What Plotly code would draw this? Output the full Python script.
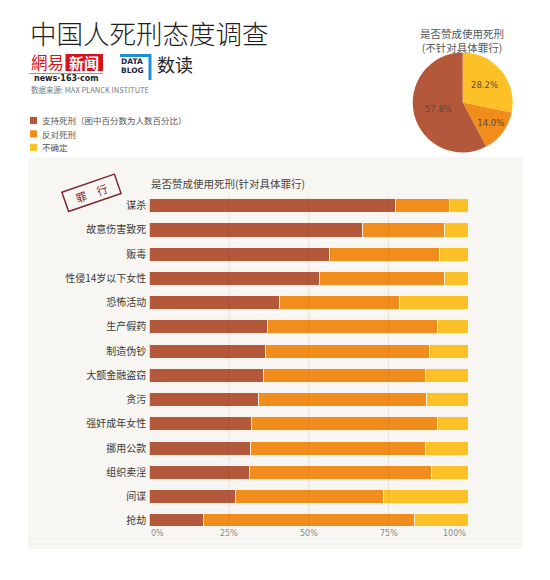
import plotly.graph_objects as go

W, H = 550, 580

crimes = ["谋杀", "故意伤害致死", "贩毒", "性侵14岁以下女性", "恐怖活动", "生产假药", "制造伪钞",
          "大额金融盗窃", "贪污", "强奸成年女性", "挪用公款", "组织卖淫", "间谍", "抢劫"]
support = [77.2, 66.9, 56.6, 53.3, 40.8, 37.2, 36.3, 35.7, 34.3, 32.1, 31.7, 31.3, 27.1, 17.0]
oppose = [16.9, 25.5, 34.5, 39.2, 37.6, 53.0, 51.6, 50.9, 52.7, 58.1, 54.9, 57.2, 46.3, 66.1]
unsure = [5.9, 7.6, 8.9, 7.5, 21.6, 9.8, 12.1, 13.4, 13.0, 9.8, 13.4, 11.5, 26.6, 16.9]

series_names = ["支持死刑", "反对死刑", "不确定"]
legend_labels = ["支持死刑（图中百分数为人数百分比）", "反对死刑", "不确定"]
colors = ["#b3583b", "#f08d1d", "#fdc128"]

pie_labels = ["不确定", "反对死刑", "支持死刑"]
pie_values = [28.2, 14.0, 57.8]
pie_colors = [colors[2], colors[1], colors[0]]

x_ticks = [0, 25, 50, 75, 100]
x_tick_text = ["0%", "25%", "50%", "75%", "100%"]

FONT = "Noto Sans CJK SC"
TITLE_FONT = "Noto Sans CJK SC Light, Noto Sans CJK SC DemiLight, Noto Sans CJK SC"
PANEL = "#f7f6f2"


def px(x):
    return x / W


def py(y):
    return 1 - y / H


fig = go.Figure()

for name, vals, col in zip(series_names, [support, oppose, unsure], colors):
    fig.add_trace(go.Bar(
        y=crimes, x=vals, name=name, orientation="h",
        marker=dict(color=col, line=dict(color="#fbf3e8", width=1)),
        showlegend=False, hovertemplate="%{y}: %{x:.1f}%<extra>" + name + "</extra>",
    ))

fig.add_trace(go.Pie(
    labels=pie_labels, values=pie_values, sort=False, direction="clockwise",
    marker=dict(colors=pie_colors, line=dict(width=0)),
    texttemplate="%{value:.1f}%", textposition="inside",
    insidetextorientation="horizontal",
    textfont=dict(family="DejaVu Sans", size=8.5, color="#5a4a3a"),
    domain=dict(x=[px(412.7), px(512.7)], y=[py(152.5), py(52.5)]),
    showlegend=False, hoverinfo="label+percent",
))

shapes = []
# beige panel
shapes.append(dict(type="rect", xref="paper", yref="paper", x0=px(28.3), x1=px(522.7),
                   y0=py(549), y1=py(157.3), fillcolor=PANEL, line=dict(width=0), layer="below"))
shapes.append(dict(type="line", xref="paper", yref="paper", x0=px(28.3), x1=px(522.7),
                   y0=py(544), y1=py(544), line=dict(color="#efece6", width=1), layer="below"))
# gridlines above bars
for t in x_ticks[1:-1]:
    shapes.append(dict(type="line", xref="x", yref="paper", x0=t, x1=t,
                       y0=py(527), y1=py(196), line=dict(color="rgba(120,50,10,0.10)", width=1),
                       layer="above"))
# legend squares
for i, col in enumerate(colors):
    yc = 120.5 + i * 13.4
    shapes.append(dict(type="rect", xref="paper", yref="paper", x0=px(30), x1=px(37),
                       y0=py(yc + 3.6), y1=py(yc - 3.6), fillcolor=col, line=dict(width=0)))
# netease logo box
shapes.append(dict(type="rect", xref="paper", yref="paper", x0=px(65.5), x1=px(103),
                   y0=py(71), y1=py(54), fillcolor="#d2141c", line=dict(width=0)))
shapes.append(dict(type="line", xref="paper", yref="paper", x0=px(29), x1=px(103),
                   y0=py(73.5), y1=py(73.5), line=dict(color="#9a9a9a", width=1)))
# data blog bracket
shapes.append(dict(type="path", xref="paper", yref="paper",
                   path=f"M{px(120)},{py(55.5)} L{px(150)},{py(55.5)} L{px(150)},{py(80)}",
                   line=dict(color="#1e8fd6", width=3)))

annotations = []
annotations.append(dict(text="中国人死刑态度调查", x=px(28), y=py(32), xref="paper", yref="paper",
                        xanchor="left", yanchor="middle", showarrow=False,
                        font=dict(family=TITLE_FONT, size=26.5, color="#1e1e1e", weight=300)))
annotations.append(dict(text="網易", x=px(28.5), y=py(62.5), xref="paper", yref="paper",
                        xanchor="left", yanchor="middle", showarrow=False,
                        font=dict(family="Noto Sans CJK TC", size=16.5, color="#d2141c")))
annotations.append(dict(text="<b>新闻</b>", x=px(84.2), y=py(62.5), xref="paper", yref="paper",
                        xanchor="center", yanchor="middle", showarrow=False,
                        font=dict(family=FONT, size=15, color="#ffffff")))
annotations.append(dict(text="<b>news·163·com</b>", x=px(66), y=py(78.5), xref="paper", yref="paper",
                        xanchor="center", yanchor="middle", showarrow=False,
                        font=dict(family="DejaVu Sans", size=8, color="#222222")))
annotations.append(dict(text="<b>DATA</b>", x=px(132), y=py(61.5), xref="paper", yref="paper",
                        xanchor="center", yanchor="middle", showarrow=False,
                        font=dict(family="DejaVu Sans", size=7.5, color="#1a2640")))
annotations.append(dict(text="<b>BLOG</b>", x=px(132), y=py(70.5), xref="paper", yref="paper",
                        xanchor="center", yanchor="middle", showarrow=False,
                        font=dict(family="DejaVu Sans", size=7.5, color="#1a2640")))
annotations.append(dict(text="数读", x=px(155), y=py(64), xref="paper", yref="paper",
                        xanchor="left", yanchor="middle", showarrow=False,
                        font=dict(family=FONT, size=18, color="#222222")))
annotations.append(dict(text="数据来源: MAX PLANCK INSTITUTE", x=px(29), y=py(89), xref="paper", yref="paper",
                        xanchor="left", yanchor="middle", showarrow=False,
                        font=dict(family=FONT, size=7.5, color="#777777")))
annotations.append(dict(text="是否赞成使用死刑<br>(不针对具体罪行)", x=px(462), y=py(41), xref="paper",
                        yref="paper", xanchor="center", yanchor="middle", showarrow=False, align="center",
                        font=dict(family=FONT, size=10.5, color="#555555")))
for i, lab in enumerate(legend_labels):
    yc = 120.5 + i * 13.4
    annotations.append(dict(text=lab, x=px(39.5), y=py(yc), xref="paper", yref="paper",
                            xanchor="left", yanchor="middle", showarrow=False,
                            font=dict(family=FONT, size=8.5, color="#555555")))
annotations.append(dict(text="是否赞成使用死刑(针对具体罪行)", x=px(148.5), y=py(183), xref="paper",
                        yref="paper", xanchor="left", yanchor="middle", showarrow=False,
                        font=dict(family=FONT, size=10.5, color="#444444")))
annotations.append(dict(text="罪　行", x=px(91), y=py(193), xref="paper", yref="paper",
                        xanchor="center", yanchor="middle", showarrow=False, textangle=-19,
                        width=50, height=15, borderpad=2, bordercolor="#7d2a30", borderwidth=1.5,
                        font=dict(family=FONT, size=11, color="#7d2a30")))
# x tick labels: first left-aligned, last right-aligned, others centred (as in the source)
for i, (t, txt) in enumerate(zip(x_ticks, x_tick_text)):
    anchor = "left" if i == 0 else ("right" if i == len(x_ticks) - 1 else "center")
    annotations.append(dict(text=txt, x=t, y=py(533), xref="x", yref="paper",
                            xanchor=anchor, yanchor="middle", showarrow=False,
                            font=dict(family="DejaVu Sans", size=8, color="#8a8a8a")))

fig.update_layout(
    width=W, height=H, margin=dict(l=0, r=0, t=0, b=0),
    paper_bgcolor="#ffffff", plot_bgcolor="rgba(0,0,0,0)",
    barmode="stack", bargap=0.42,
    shapes=shapes, annotations=annotations,
    font=dict(family=FONT),
    xaxis=dict(domain=[px(149.3), px(468.3)], range=[0, 100], tickvals=x_ticks,
               showticklabels=False, showgrid=False, zeroline=False, showline=False, ticks=""),
    yaxis=dict(domain=[py(526), py(193.6)], range=[13.21, -0.5], type="category",
               showgrid=False, zeroline=False, showline=False, ticks="", ticklabelstandoff=2,
               tickfont=dict(family=FONT, size=10, color="#3a3a3a")),
)

fig.write_html("out.html")
